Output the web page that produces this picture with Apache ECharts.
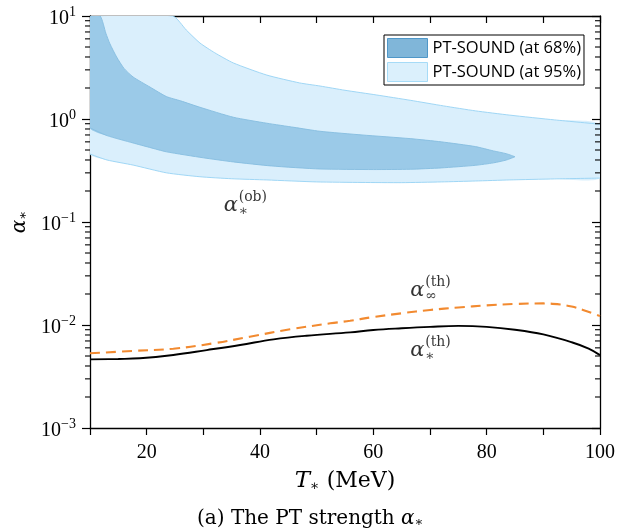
<!DOCTYPE html>
<html>
<head>
<meta charset="utf-8">
<script src="https://cdn.jsdelivr.net/npm/echarts@6/dist/echarts.min.js"></script>
<style>html,body{margin:0;padding:0;background:#fff;}#c{width:630px;height:531px;}</style>
</head>
<body>
<div id="c"></div>
<script>
// ---- data ----
const xTicks = [10, 20, 30, 40, 50, 60, 70, 80, 90, 100];
const yDecades = [0.001, 0.01, 0.1, 1, 10];

const band95Upper = [[10,10],[24.6,10],[27,7.3],[29.4,5.47],[32,4.4],[35.3,3.5],[41.2,2.67],[47,2.24],[50.6,2.09],[55,1.9],[60.6,1.71],[66.5,1.52],[72.4,1.34],[78,1.2],[84.1,1.09],[92,0.98],[100,0.89]];
const band95Lower = [[10,0.457],[13,0.40],[17.6,0.357],[23.5,0.30],[29.4,0.275],[35,0.263],[41.2,0.256],[50,0.245],[58,0.242],[65,0.241],[72,0.245],[78,0.25],[84,0.256],[92,0.262],[100,0.267]];

const band68Upper = [[10,10],[11.8,10],[12.8,6.8],[13.5,5.4],[14.7,4.0],[16,3.1],[17.6,2.56],[20.6,2.04],[23.5,1.65],[26,1.50],[29.4,1.30],[35.3,1.04],[41.2,0.91],[46,0.83],[50.6,0.76],[58,0.70],[66.5,0.645],[72,0.60],[78,0.54],[81.2,0.49],[83.5,0.46],[85,0.43]];
const band68Lower = [[10,0.82],[13,0.69],[17.6,0.585],[20.5,0.53],[23.5,0.48],[30,0.42],[35.3,0.383],[42,0.35],[50.6,0.327],[60,0.323],[66.5,0.325],[72,0.335],[78,0.355],[81.2,0.375],[83.5,0.40],[85,0.43]];

const alphaTh = [[10,0.00464],[15,0.00468],[18.8,0.00475],[24.7,0.00512],[30.6,0.00571],[36.5,0.0064],[42.4,0.00726],[48.2,0.00787],[55.9,0.00849],[60,0.00894],[65,0.0093],[70,0.0096],[75,0.0098],[80,0.0096],[85,0.0090],[90,0.0081],[95,0.0068],[98,0.0059],[100,0.0051]];
const alphaInf = [[10,0.00531],[17.6,0.0056],[24.7,0.00589],[31.8,0.00664],[38.2,0.0077],[45.3,0.00908],[52.4,0.01038],[55.9,0.0110],[60,0.01195],[65,0.0130],[70,0.0140],[75,0.0148],[80,0.0155],[85,0.0160],[90,0.0162],[93,0.0158],[95,0.0151],[97,0.0140],[99,0.0128],[100,0.0122]];

const legendNames = ['PT-SOUND (at 68%)', 'PT-SOUND (at 95%)'];
const annoPos = [[33.6, 0.143], [66.5, 0.0214], [66.5, 0.0056]];
const annoSup = ['(ob)', '(th)', '(th)'];
const annoSub = ['∗', '∞', '∗'];

// minor ticks of the log axis (2..9 × 10^k)
const minorVals = [];
for (let k = -3; k < 1; k++) for (let m = 2; m <= 9; m++) minorVals.push(m * Math.pow(10, k));

const SERIF = "'Liberation Serif', 'DejaVu Serif', serif";
const WSERIF = "'DejaVu Serif', 'Liberation Serif', serif";
const X0 = 10, X1 = 100;

function bandRender(upper, lower, fill, stroke) {
  return function (params, api) {
    const up = upper.map(p => api.coord(p));
    const lo = lower.slice().reverse().map(p => api.coord(p));
    return {
      type: 'group', children: [
        { type: 'polygon', shape: { points: up.concat(lo), smooth: 0.2 }, style: { fill: fill, stroke: null } },
        { type: 'polyline', shape: { points: up, smooth: 0.2 }, style: { fill: null, stroke: stroke, lineWidth: 0.9 } },
        { type: 'polyline', shape: { points: lo, smooth: 0.2 }, style: { fill: null, stroke: stroke, lineWidth: 0.9 } }
      ]
    };
  };
}

const chart = echarts.init(document.getElementById('c'), null, { renderer: 'canvas' });
const axisLineStyle = { color: '#000', width: 1.3 };

chart.setOption({
  animation: false,
  backgroundColor: '#fff',
  grid: { left: 90, right: 30, top: 16, bottom: 103 },
  title: {
    text: '(a) The PT strength {a|α}{s|∗}',
    left: 192, top: 504,
    textStyle: {
      fontFamily: WSERIF, fontSize: 20, fontWeight: 'normal', color: '#000',
      rich: {
        a: { fontFamily: WSERIF, fontStyle: 'italic', fontSize: 20, color: '#000' },
        s: { fontFamily: WSERIF, fontSize: 13, verticalAlign: 'bottom', color: '#000' }
      }
    }
  },
  legend: {
    orient: 'vertical', left: 384, top: 35,
    padding: [3, 3, 3, 3], itemGap: 4, itemWidth: 40, itemHeight: 19,
    borderColor: '#000', borderWidth: 1, borderRadius: 0, backgroundColor: '#fff',
    icon: 'rect',
    textStyle: { fontFamily: "'Open Sans', 'Noto Sans', sans-serif", fontSize: 16.5, color: '#000' },
    data: [
      { name: legendNames[0], itemStyle: { color: '#80b6d9', borderColor: '#4f97c8', borderWidth: 1 } },
      { name: legendNames[1], itemStyle: { color: '#dbf0fc', borderColor: '#a6dbf7', borderWidth: 1 } }
    ]
  },
  xAxis: [
    {
      type: 'value', min: X0, max: X1, interval: 10, position: 'bottom',
      axisLine: { show: true, onZero: false, lineStyle: axisLineStyle },
      axisTick: { show: true, inside: false, length: 7, lineStyle: { color: '#000', width: 1.2 } },
      axisLabel: {
        margin: 15, fontFamily: SERIF, fontSize: 20, color: '#000',
        formatter: v => (xTicks.indexOf(v) >= 0 && v % 20 === 0) ? String(v) : ''
      },
      splitLine: { show: false },
      name: '{t|T}{s|∗}{m| (MeV)}', nameLocation: 'middle', nameGap: 42,
      nameTextStyle: {
        fontFamily: WSERIF, fontSize: 22, color: '#000',
        rich: {
          t: { fontFamily: WSERIF, fontStyle: 'italic', fontSize: 23, color: '#000' },
          s: { fontFamily: WSERIF, fontSize: 14, verticalAlign: 'bottom', color: '#000' },
          m: { fontFamily: WSERIF, fontSize: 22, color: '#000' }
        }
      }
    },
    {
      type: 'value', min: X0, max: X1, interval: 10, position: 'top',
      axisLine: { show: true, onZero: false, lineStyle: axisLineStyle },
      axisTick: { show: true, inside: true, length: 7, lineStyle: { color: '#000', width: 1.2 } },
      axisLabel: { show: false }, splitLine: { show: false }
    }
  ],
  yAxis: [
    {
      type: 'log', logBase: 10, min: yDecades[0], max: yDecades[yDecades.length - 1], position: 'left',
      axisLine: { show: true, onZero: false, lineStyle: axisLineStyle },
      axisTick: { show: true, inside: false, length: 8, lineStyle: { color: '#000', width: 1.2 } },
      axisLabel: {
        margin: 14, color: '#000',
        formatter: v => {
          const e = Math.round(Math.log10(v));
          return '{b|10}{e|' + (e < 0 ? '−' + (-e) : e) + '}';
        },
        rich: {
          b: { fontFamily: SERIF, fontSize: 20, lineHeight: 22, padding: [6, 0, 0, 0], color: '#000' },
          e: { fontFamily: SERIF, fontSize: 14, lineHeight: 14, verticalAlign: 'top', color: '#000' }
        }
      },
      splitLine: { show: false },
      name: '{a|α}{s|∗}', nameLocation: 'middle', nameGap: 60, nameRotate: 90,
      nameTextStyle: {
        color: '#000',
        rich: {
          a: { fontFamily: WSERIF, fontStyle: 'italic', fontSize: 20, color: '#000' },
          s: { fontFamily: WSERIF, fontSize: 13, verticalAlign: 'bottom', color: '#000' }
        }
      }
    },
    {
      type: 'log', logBase: 10, min: yDecades[0], max: yDecades[yDecades.length - 1], position: 'right',
      axisLine: { show: true, onZero: false, lineStyle: axisLineStyle },
      axisTick: { show: true, inside: true, length: 8, lineStyle: { color: '#000', width: 1.2 } },
      axisLabel: { show: false }, splitLine: { show: false }
    }
  ],
  series: [
    {
      name: legendNames[1], type: 'custom', coordinateSystem: 'cartesian2d', xAxisIndex: 0, yAxisIndex: 0,
      clip: true, z: 1,
      itemStyle: { color: '#dbf0fc' },
      renderItem: bandRender(band95Upper, band95Lower, '#daeffc', '#96d2f4'),
      data: [[X0, 1]]
    },
    {
      name: legendNames[0], type: 'custom', coordinateSystem: 'cartesian2d', xAxisIndex: 0, yAxisIndex: 0,
      clip: true, z: 2,
      itemStyle: { color: '#80b6d9' },
      renderItem: bandRender(band68Upper, band68Lower, '#9bcae8', '#86bde0'),
      data: [[X0, 1]]
    },
    {
      name: 'alphaInf', type: 'line', data: alphaInf, smooth: 0.4, showSymbol: false, z: 4,
      lineStyle: { color: '#f28a30', width: 2.1, type: [10, 6] }
    },
    {
      name: 'alphaTh', type: 'line', data: alphaTh, smooth: 0.4, showSymbol: false, z: 5,
      lineStyle: { color: '#000', width: 1.9 }
    },
    {
      name: 'minorTicks', type: 'custom', coordinateSystem: 'cartesian2d', clip: false, z: 6, silent: true,
      data: minorVals.map(v => [X0, v]),
      renderItem: function (params, api) {
        const v = api.value(1);
        const l = api.coord([X0, v]);
        const r = api.coord([X1, v]);
        const st = { stroke: '#000', lineWidth: 1.1 };
        return {
          type: 'group', children: [
            { type: 'line', shape: { x1: l[0] - 5, y1: l[1], x2: l[0], y2: l[1] }, style: st },
            { type: 'line', shape: { x1: r[0] - 5, y1: r[1], x2: r[0], y2: r[1] }, style: st }
          ]
        };
      }
    },
    {
      name: 'annoAlpha', type: 'scatter', data: annoPos, symbolSize: 0, z: 7, silent: true,
      label: {
        show: true, position: 'right', distance: 0, formatter: 'α',
        fontFamily: WSERIF, fontStyle: 'italic', fontSize: 21, color: '#000'
      }
    },
    {
      name: 'annoScript', type: 'scatter', data: annoPos, symbolSize: 0, z: 7, silent: true,
      label: {
        show: true, position: 'right', distance: 0, offset: [15, -2],
        formatter: p => '{p|' + annoSup[p.dataIndex] + '}\n{q|' + annoSub[p.dataIndex] + '}',
        rich: {
          p: { fontFamily: WSERIF, fontSize: 14, lineHeight: 15, color: '#000' },
          q: { fontFamily: WSERIF, fontSize: 14, lineHeight: 13, color: '#000' }
        }
      }
    }
  ]
});
</script>
</body>
</html>
